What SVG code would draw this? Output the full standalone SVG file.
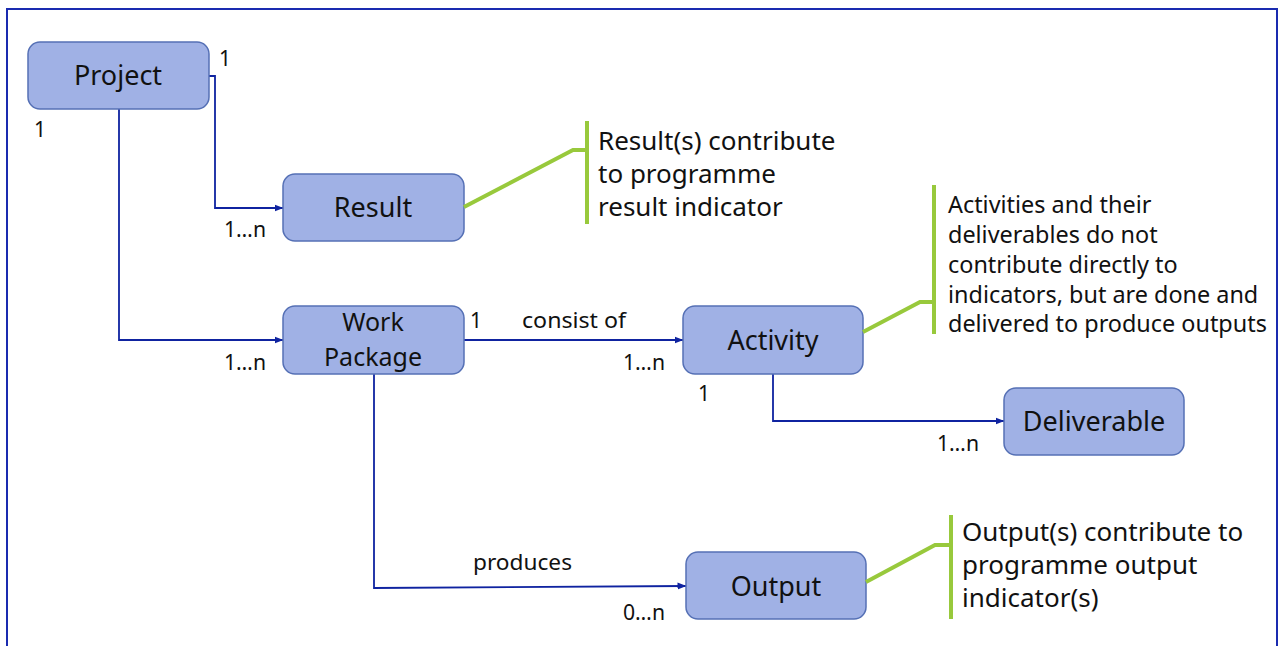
<svg xmlns="http://www.w3.org/2000/svg" width="1280" height="646" viewBox="0 0 1280 646">
<defs>
<marker id="arr" markerWidth="9" markerHeight="8" refX="8.5" refY="4" orient="auto" markerUnits="userSpaceOnUse">
<path d="M0,0.5 L9,4 L0,7.5 Z" fill="#0F23A0"/>
</marker>
</defs>
<style>
.node rect{fill:#A0B1E5;stroke:#5570B5;stroke-width:1.5}
.node text{font-family:"Noto Sans","Open Sans",sans-serif;font-size:27px;fill:#111;text-anchor:middle}
.conn{fill:none;stroke:#0F23A0;stroke-width:1.8}
.lbl{font-family:"Noto Sans","Open Sans",sans-serif;font-size:21px;fill:#111}
.green{fill:none;stroke:#98C93C;stroke-width:4}
.note{font-family:"Noto Sans","Open Sans",sans-serif;font-size:26px;fill:#111}
.note2{font-family:"Noto Sans","Open Sans",sans-serif;font-size:23.4px;fill:#111}
</style>
<rect width="1280" height="646" fill="#fff"/>
<rect x="7" y="9" width="1270" height="660" fill="none" stroke="#1A2BB0" stroke-width="2"/>

<g id="connectors">
<path class="conn" d="M209,76 H215 V208 H283" marker-end="url(#arr)"/>
<path class="conn" d="M119,109 V340 H283" marker-end="url(#arr)"/>
<path class="conn" d="M464,340 H683" marker-end="url(#arr)"/>
<path class="conn" d="M773,374 V421 H1004" marker-end="url(#arr)"/>
<path class="conn" d="M374,374 V588 L686,586" marker-end="url(#arr)"/>
</g>

<g id="labels">
<text class="lbl" x="219" y="66">1</text>
<text class="lbl" x="34" y="137">1</text>
<text class="lbl" x="224" y="237" textLength="42" lengthAdjust="spacingAndGlyphs">1…n</text>
<text class="lbl" x="224" y="370" textLength="42" lengthAdjust="spacingAndGlyphs">1…n</text>
<text class="lbl" x="470" y="328">1</text>
<text class="lbl" x="522" y="328" textLength="104" lengthAdjust="spacingAndGlyphs">consist of</text>
<text class="lbl" x="623" y="370" textLength="42" lengthAdjust="spacingAndGlyphs">1…n</text>
<text class="lbl" x="698" y="401">1</text>
<text class="lbl" x="937" y="451" textLength="42" lengthAdjust="spacingAndGlyphs">1…n</text>
<text class="lbl" x="473" y="570" textLength="99" lengthAdjust="spacingAndGlyphs">produces</text>
<text class="lbl" x="623" y="620" textLength="42" lengthAdjust="spacingAndGlyphs">0…n</text>
</g>

<g id="project" class="node"><rect x="28" y="42" width="181" height="67" rx="12"/><text x="118" y="85">Project</text></g>
<g id="result" class="node"><rect x="283" y="174" width="181" height="67" rx="12"/><text x="373" y="217">Result</text></g>
<g id="workpackage" class="node"><rect x="283" y="306" width="181" height="68" rx="12"/><text x="373" y="331" style="font-size:25px"><tspan x="373" y="331">Work</tspan><tspan x="373" y="366">Package</tspan></text></g>
<g id="activity" class="node"><rect x="683" y="306" width="180" height="68" rx="12"/><text x="773" y="350">Activity</text></g>
<g id="deliverable" class="node"><rect x="1004" y="388" width="180" height="67" rx="12"/><text x="1094" y="431">Deliverable</text></g>
<g id="output" class="node"><rect x="686" y="552" width="180" height="67" rx="12"/><text x="776" y="596">Output</text></g>

<g id="note-result">
<path class="green" d="M464,207 L573,150 H587"/>
<path class="green" d="M587,121 V224"/>
<text class="note"><tspan x="598" y="150">Result(s) contribute</tspan><tspan x="598" y="183">to programme</tspan><tspan x="598" y="216">result indicator</tspan></text>
</g>
<g id="note-activity">
<path class="green" d="M863,332 L920,302 H934"/>
<path class="green" d="M934,185 V334"/>
<text class="note2"><tspan x="948" y="213">Activities and their</tspan><tspan x="948" y="243">deliverables do not</tspan><tspan x="948" y="273">contribute directly to</tspan><tspan x="948" y="303">indicators, but are done and</tspan><tspan x="948" y="332">delivered to produce outputs</tspan></text>
</g>
<g id="note-output">
<path class="green" d="M866,582 L935,545 H951"/>
<path class="green" d="M951,515 V619"/>
<text class="note"><tspan x="962" y="541">Output(s) contribute to</tspan><tspan x="962" y="574">programme output</tspan><tspan x="962" y="607">indicator(s)</tspan></text>
</g>
</svg>
